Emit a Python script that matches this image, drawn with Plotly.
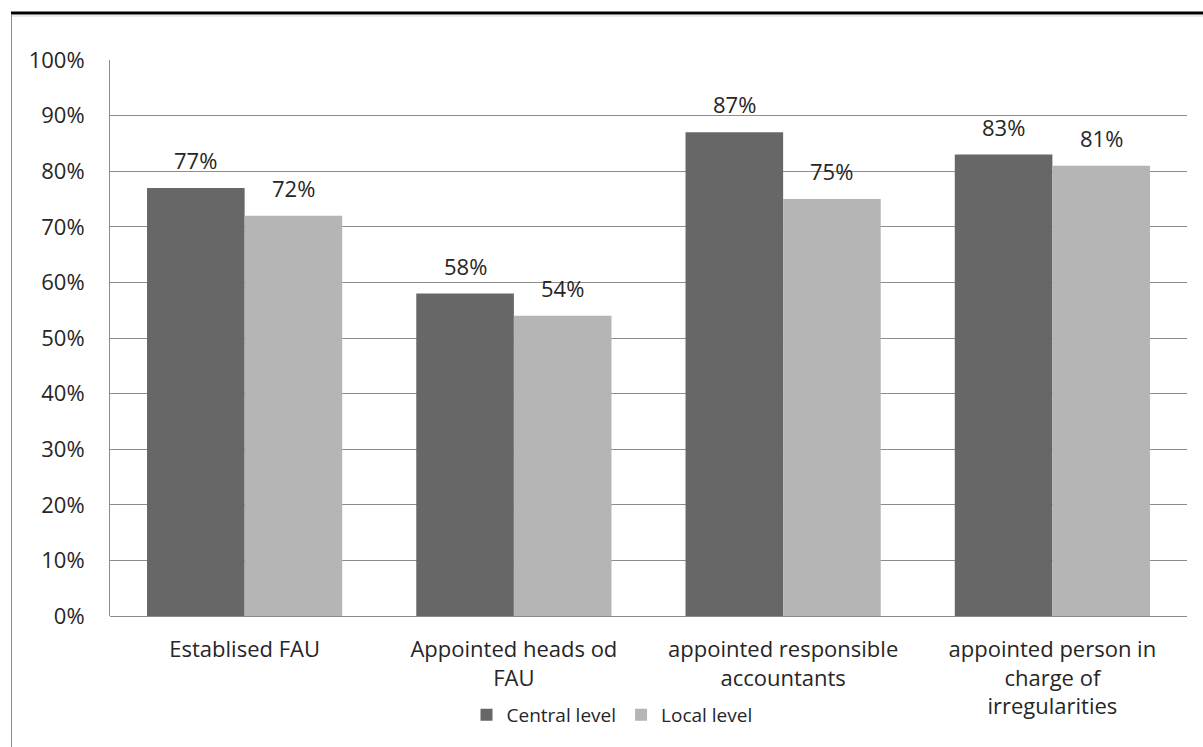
import plotly.graph_objects as go

categories = [
    "Establised FAU",
    "Appointed heads od<br>FAU",
    "appointed responsible<br>accountants",
    "appointed person in<br>charge of<br>irregularities",
]
central = [77, 58, 87, 83]
local = [72, 54, 75, 81]
y_ticks = [0, 10, 20, 30, 40, 50, 60, 70, 80, 90, 100]
y_tick_text = [f"{v}%" for v in y_ticks]

FONT = "'Open Sans', sans-serif"
TEXT = "#262626"
DARK = "#676767"
LIGHT = "#b5b5b5"

W, H = 1203, 747
L, R, T, B = 110, 16, 60, 131
pw, ph = W - L - R, H - T - B
BARGAP = 0.275


def px_x(x):
    return (x - L) / pw


def px_y(y):
    return (H - B - y) / ph


fig = go.Figure()
fig.add_trace(go.Bar(name="Central level", x=categories, y=central,
                     marker=dict(color=DARK, line=dict(width=0))))
fig.add_trace(go.Bar(name="Local level", x=categories, y=local,
                     marker=dict(color=LIGHT, line=dict(width=0))))

# value labels above each bar, offset by half a bar width from the group centre
half_bar = pw / len(categories) * (1 - BARGAP) / 4
annotations = []
for series, shift in ((central, -half_bar), (local, half_bar)):
    for cat, v in zip(categories, series):
        annotations.append(dict(
            x=cat, y=v, xref="x", yref="y", text=f"{v}%",
            showarrow=False, xshift=shift, yshift=28,
            yanchor="middle", xanchor="center",
            font=dict(size=22, color=TEXT, family=FONT),
        ))

fig.update_layout(
    width=W, height=H,
    margin=dict(l=L, r=R, t=T, b=B),
    paper_bgcolor="white", plot_bgcolor="white",
    barmode="group", bargap=BARGAP, bargroupgap=0,
    font=dict(family=FONT, size=20, color=TEXT),
    showlegend=True,
    legend=dict(
        orientation="h", x=px_x(612), xanchor="center",
        y=px_y(715), yanchor="middle",
        font=dict(size=19, color=TEXT, family=FONT),
        traceorder="normal", bgcolor="rgba(0,0,0,0)",
    ),
    xaxis=dict(
        showgrid=False, showline=False, ticks="",
        ticklabelstandoff=18,
        tickfont=dict(size=22, color=TEXT, family=FONT),
    ),
    yaxis=dict(
        range=[0, 100], tickvals=y_ticks, ticktext=y_tick_text,
        showgrid=True, gridcolor="#8c8c8c", gridwidth=1,
        showline=True, linecolor="#8c8c8c", linewidth=1,
        zeroline=True, zerolinecolor="#8c8c8c", zerolinewidth=1,
        ticks="", ticklabelstandoff=20,
        tickfont=dict(size=22, color=TEXT, family=FONT),
    ),
    annotations=annotations,
    shapes=[
        # outer frame: heavy rule on top, thin rule on the left
        dict(type="line", xref="paper", yref="paper",
             x0=px_x(11), x1=px_x(1203), y0=px_y(13), y1=px_y(13),
             line=dict(color="black", width=3)),
        dict(type="line", xref="paper", yref="paper",
             x0=px_x(11), x1=px_x(1203), y0=px_y(16), y1=px_y(16),
             line=dict(color="#d8d8d8", width=1)),
        dict(type="line", xref="paper", yref="paper",
             x0=px_x(11.5), x1=px_x(11.5), y0=px_y(15), y1=px_y(747),
             line=dict(color="#8c8c8c", width=1)),
    ],
)

fig.write_html("out.html")
